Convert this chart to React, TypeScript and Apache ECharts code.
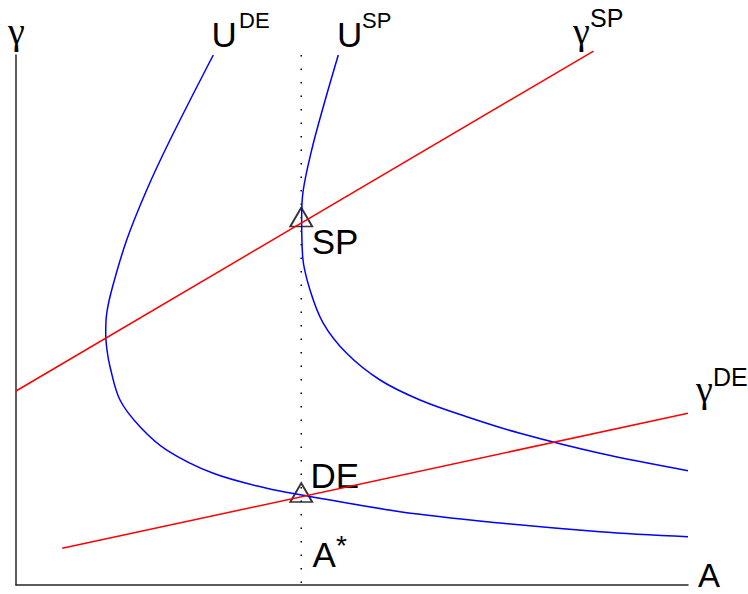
import React, { useEffect, useRef } from "react";
import * as echarts from "echarts";

// Abscissa A and ordinate gamma in arbitrary units (0..10)
const A_STAR = 4.245;

const U_DE: [number, number][] = [
  [2.936, 10.0], [2.292, 8.396], [1.945, 7.453], [1.647, 6.509], [1.424, 5.566],
  [1.347, 5.094], [1.335, 4.749], [1.354, 4.434], [1.399, 4.119], [1.548, 3.491],
  [1.845, 2.987], [2.243, 2.547], [2.936, 2.108], [3.731, 1.825], [4.251, 1.698],
  [5.714, 1.383], [7.202, 1.170], [8.69, 1.006], [10.0, 0.911],
];

const U_SP: [number, number][] = [
  [4.796, 10.0], [4.573, 9.025], [4.4, 8.208], [4.275, 7.453], [4.251, 6.949],
  [4.266, 6.194], [4.375, 5.566], [4.573, 4.938], [4.921, 4.372], [5.417, 3.868],
  [6.012, 3.491], [6.707, 3.175], [7.5, 2.862], [8.69, 2.485], [10.0, 2.157],
];

const GAMMA_SP: [number, number][] = [[0, 3.66], [8.594, 10.075]];
const GAMMA_DE: [number, number][] = [[0.6875, 0.692], [10.0, 3.24]];

const EQUILIBRIA: [number, number][] = [[A_STAR, 6.943], [A_STAR, 1.745]];

const FONT = "Liberation Sans, Arial, Helvetica, sans-serif";
const GREEK = "Liberation Serif, Times New Roman, serif";

function txt(text: string, x: number, y: number, size: number, family: string = FONT) {
  return {
    type: "text",
    x,
    y,
    silent: true,
    style: { text, fontSize: size, fontFamily: family, fill: "#000", align: "left", verticalAlign: "middle" },
  };
}

export default function App() {
  const ref = useRef<HTMLDivElement>(null);
  useEffect(() => {
    if (!ref.current) return;
    const chart = echarts.init(ref.current, undefined, { renderer: "svg" });
    const axisCommon = {
      type: "value",
      min: 0,
      max: 10,
      axisLine: { show: true, lineStyle: { color: "#262626", width: 1.5 } },
      axisTick: { show: false },
      axisLabel: { show: false },
      splitLine: { show: false },
    };
    chart.setOption({
      animation: false,
      backgroundColor: "#fff",
      grid: { left: 16, top: 55, width: 672, height: 530 },
      xAxis: { ...axisCommon },
      yAxis: { ...axisCommon },
      series: [
        {
          type: "line", data: [[A_STAR, 10], [A_STAR, 0]], symbol: "none", silent: true,
          lineStyle: { color: "#000", width: 1.5, type: [1.5, 12] },
        },
        {
          type: "line", data: U_DE, symbol: "none", smooth: 0.35, clip: false,
          lineStyle: { color: "#0000ff", width: 1.5 },
        },
        {
          type: "line", data: U_SP, symbol: "none", smooth: 0.35, clip: false,
          lineStyle: { color: "#0000ff", width: 1.5 },
        },
        {
          type: "line", data: GAMMA_SP, symbol: "none", clip: false,
          lineStyle: { color: "#ff0000", width: 1.5 },
        },
        {
          type: "line", data: GAMMA_DE, symbol: "none", clip: false,
          lineStyle: { color: "#ff0000", width: 1.5 },
        },
        {
          type: "scatter", data: EQUILIBRIA, symbol: "triangle", symbolSize: [22, 19], clip: false,
          itemStyle: { color: "rgba(0,0,0,0)", borderColor: "#000", borderWidth: 1.8 },
        },
      ],
      graphic: [
        txt("γ", 8, 30.5, 38, GREEK),
        txt("U", 211.5, 34.6, 35),
        txt("DE", 239, 20.1, 22),
        txt("U", 337, 34.6, 35),
        txt("SP", 362, 20.1, 22),
        txt("γ", 573, 30.5, 38, GREEK),
        txt("SP", 590, 18.4, 25),
        txt("γ", 696, 388.8, 38, GREEK),
        txt("DE", 713, 376.7, 25),
        txt("SP", 311.7, 241.2, 35),
        txt("DE", 310.5, 475.2, 35),
        txt("A", 312.5, 554.6, 35),
        txt("*", 336, 545.7, 28),
        txt("A", 698, 575.5, 33),
      ],
    });
    return () => chart.dispose();
  }, []);
  return <div ref={ref} style={{ position: "absolute", left: 0, top: 0, width: 748, height: 594 }} />;
}
